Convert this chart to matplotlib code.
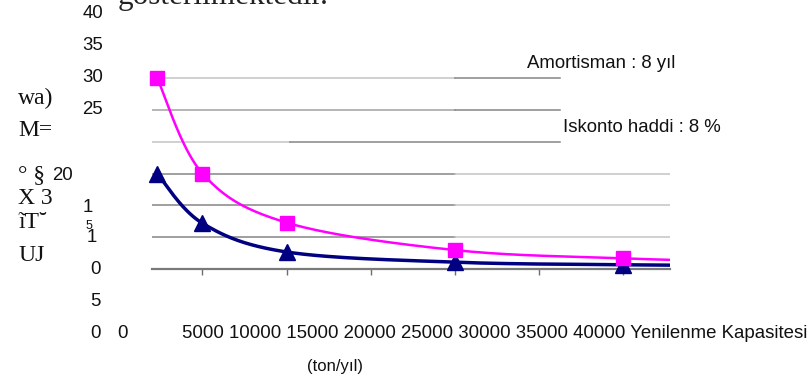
import numpy as np
import matplotlib
matplotlib.use("Agg")
import matplotlib.pyplot as plt
from matplotlib.transforms import blended_transform_factory

plt.rcParams["font.family"] = ["Liberation Sans", "DejaVu Sans"]

# --- data -------------------------------------------------------------
capacity = [2300, 5000, 10000, 20000, 30000, 40000]          # ton/yıl
cost_upper = [30.0, 15.0, 7.3, 3.0, 1.7, 1.0]                 # magenta series
cost_lower = [15.0, 7.2, 2.7, 1.1, 0.7, 0.5]                  # navy series

x_ticks = [5000, 10000, 15000, 20000, 25000, 30000]
x_tick_labels = ["0", "5000", "10000", "15000", "20000", "25000",
                 "30000", "35000", "40000"]
x_title = "Yenilenme Kapasitesi"
x_unit = "(ton/yıl)"
y_tick_labels = ["40", "35", "30", "25", "20", "1", "5", "1", "0", "5", "0"]
y_tick_values = [40, 35, 30, 25, 14.7, 9.7, 6.7, 5.0, 0, -5, -10]
side_words = ["wa)", "M=", "° §", "X 3", "ĩT˘", "UJ"]
side_values = [26.8, 21.8, 14.7, 11.1, 7.3, 2.2]
notes = ["Amortisman : 8 yıl", "Iskonto haddi : 8 %"]
note_values = [32.2, 22.2]
heading = "gösterilmektedir."

# --- layout -----------------------------------------------------------
W, H, DPI = 808, 382, 100
fig = plt.figure(figsize=(W / DPI, H / DPI), dpi=DPI)
fig.patch.set_facecolor("white")


def fx(px):
    return px / W


def fy(py):
    return 1 - py / H


ax = fig.add_axes([fx(152), fy(333), fx(670) - fx(152), fy(14) - fy(333)])
ax.set_xlim(2000, 32800)
ax.set_ylim(-10, 40)
ax.set_facecolor("none")
for side in ("left", "right", "top"):
    ax.spines[side].set_visible(False)
ax.spines["bottom"].set_position(("data", 0))
ax.spines["bottom"].set_color("#7a7a7a")
ax.spines["bottom"].set_linewidth(1.6)
ax.set_yticks([])
ax.set_xticks(x_ticks)
ax.tick_params(axis="x", direction="out", length=4, width=1.0,
               color="#6e6e6e", labelbottom=False)

# horizontal gridlines, drawn in segments (y, start, end, colour)
dark, mid, light = "#858585", "#a2a2a2", "#c4c4c4"
grid_segments = [
    (30, 0.0, 0.585, light), (30, 0.585, 0.788, dark),
    (25, 0.0, 0.585, mid), (25, 0.585, 0.788, dark),
    (20, 0.0, 0.266, light), (20, 0.266, 0.788, dark),
    (15, 0.0, 0.585, dark), (15, 0.585, 1.0, light),
    (10, 0.0, 0.585, dark), (10, 0.585, 1.0, light),
    (5, 0.0, 0.585, dark), (5, 0.585, 1.0, light),
]
for y, a, b, c in grid_segments:
    ax.axhline(y, a, b, color=c, lw=1.1, zorder=1)


def smooth_curve(xs, ys, n=40):
    """Bezier smoothing (Catmull-Rom style) computed in display space."""
    P = ax.transData.transform(np.column_stack([xs, ys]))
    out = []
    for i in range(len(P) - 1):
        p0 = P[i - 1] if i > 0 else P[i]
        p1, p2 = P[i], P[i + 1]
        p3 = P[i + 2] if i + 2 < len(P) else P[i + 1]
        c1 = p1 + (p2 - p0) / 6
        c2 = p2 - (p3 - p1) / 6
        t = np.linspace(0, 1, n)[:, None]
        seg = ((1 - t) ** 3 * p1 + 3 * (1 - t) ** 2 * t * c1
               + 3 * (1 - t) * t ** 2 * c2 + t ** 3 * p2)
        out.append(seg if i == 0 else seg[1:])
    pts = ax.transData.inverted().transform(np.vstack(out))
    return pts[:, 0], pts[:, 1]


xlo, xhi = ax.get_xlim()
cap = np.asarray(capacity)
shown = (cap >= xlo) & (cap <= xhi)

series = [
    (cost_lower, "#000080", 2.5, "^", 11),
    (cost_upper, "#ff00ff", 1.8, "s", 10),
]
for vals, col, lw, mk, ms in series:
    sx, sy = smooth_curve(capacity, vals)
    ax.plot(sx, sy, color=col, lw=lw, zorder=3, solid_capstyle="round")
    v = np.asarray(vals)
    ax.plot(cap[shown], v[shown], linestyle="none", marker=mk, ms=ms,
            color=col, markeredgecolor=col, zorder=4, clip_on=False)

# --- texts ------------------------------------------------------------
sans = 13.4
serif = ["Liberation Serif", "DejaVu Serif"]
ylab = blended_transform_factory(fig.transFigure, ax.transData)

label_right = [103, 103, 103, 103, 73, 93, 92, 97, 101, 101, 101]
label_size = [sans] * 6 + [9] + [sans] * 4
for lab, val, xr, sz in zip(y_tick_labels, y_tick_values, label_right, label_size):
    ax.text(fx(xr), val, lab, transform=ylab, ha="right", va="center",
            fontsize=sz, color="#111111")

for word, val in zip(side_words, side_values):
    ax.text(fx(18), val, word, transform=ylab, ha="left", va="center",
            fontsize=17, family=serif, color="#111111")

fig.text(fx(117), fy(333), x_tick_labels[0], ha="left", va="center",
         fontsize=sans, color="#111111")
fig.text(fx(182), fy(333), " ".join(x_tick_labels[1:]) + " " + x_title,
         ha="left", va="center", fontsize=sans, color="#111111")
fig.text(fx(335), fy(367), x_unit, ha="center", va="center",
         fontsize=12, color="#111111")

note_x = [527, 563]
for txt, val, px in zip(notes, note_values, note_x):
    ax.text(fx(px), val, txt, transform=ylab, ha="left", va="center",
            fontsize=sans, color="#111111")

fig.text(fx(118), fy(4), heading, ha="left", va="baseline",
         fontsize=22.5, family=serif, color="#222222")

fig.savefig("out.png", dpi=DPI, facecolor="white")
